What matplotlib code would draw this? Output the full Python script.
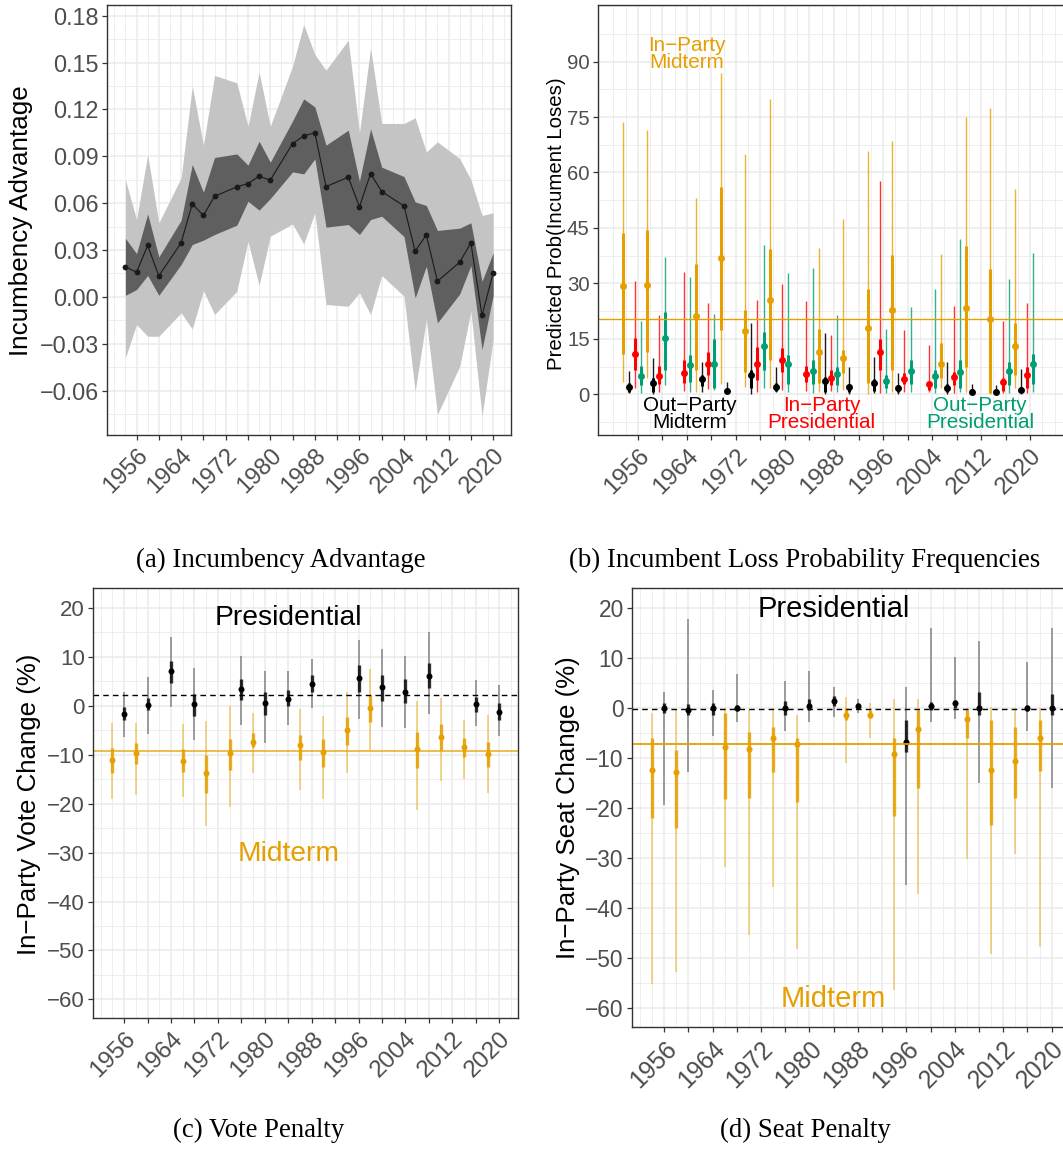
import numpy as np
import matplotlib.pyplot as plt
from matplotlib.ticker import MultipleLocator, FixedLocator

plt.rcParams['font.family'] = ['Liberation Sans', 'DejaVu Sans']

# ---------------- (a) incumbency advantage ----------------
years_a = [1954, 1956, 1958, 1960, 1964, 1966, 1968, 1970, 1974, 1976, 1978, 1980, 1984, 1986,
           1988, 1990, 1994, 1996, 1998, 2000, 2004, 2006, 2008, 2010, 2014, 2016, 2018, 2020]
adv = [0.0192, 0.0158, 0.0329, 0.0134, 0.0346, 0.0595, 0.0521, 0.0644, 0.0704, 0.0725, 0.0772, 0.0747,
       0.0981, 0.1030, 0.1050, 0.0706, 0.0766, 0.0576, 0.0789, 0.0674, 0.0582, 0.0292, 0.0397, 0.0100,
       0.0222, 0.0346, -0.0119, 0.0154]
adv_in_lo = [0.001, 0.0047, 0.0137, 0.001, 0.0207, 0.0335, 0.0363, 0.0399, 0.0459, 0.0612, 0.0555, 0.0629,
             0.080, 0.0787, 0.0883, 0.0446, 0.0463, 0.0399, 0.0495, 0.0516, 0.0386, -0.0006, 0.0196, -0.0166,
             0.0019, 0.020, -0.0337, 0.001]
adv_in_hi = [0.0375, 0.0277, 0.0531, 0.0256, 0.049, 0.0847, 0.067, 0.0892, 0.0915, 0.0843, 0.0996, 0.0862,
             0.1126, 0.1267, 0.1216, 0.0971, 0.1067, 0.074, 0.1075, 0.083, 0.077, 0.0608, 0.0585, 0.0425,
             0.044, 0.0474, 0.010, 0.0282]
adv_out_lo = [-0.039, -0.0177, -0.0252, -0.0252, -0.0102, -0.0205, 0.004, -0.0113, 0.0036, 0.0356, 0.0073,
              0.0388, 0.0467, 0.0339, 0.0538, -0.0049, -0.006, 0.0026, -0.0113, 0.0137, 0.0004, -0.0604,
              -0.0145, -0.0753, -0.0444, -0.0092, -0.0764, -0.0273]
adv_out_hi = [0.0751, 0.0495, 0.0911, 0.0474, 0.0762, 0.1348, 0.0971, 0.1417, 0.137, 0.1092, 0.1438, 0.1092,
              0.1476, 0.1743, 0.1551, 0.1451, 0.1643, 0.105, 0.1594, 0.111, 0.111, 0.1146, 0.0928, 0.0992,
              0.0885, 0.0751, 0.0521, 0.0538]

# ---------------- years used in (b), (c), (d) ----------------
mid_years = [1954, 1958, 1966, 1970, 1974, 1978, 1986, 1990, 1994, 1998, 2006, 2010, 2014, 2018]
pres_years = [1956, 1960, 1964, 1968, 1976, 1980, 1984, 1988, 1996, 2000, 2004, 2008, 2016, 2020]

# ---------------- (b) loss probabilities ----------------
# in-party midterm
inmid_pt = [29.2, 29.5, 21.3, 37.0, 17.1, 25.5, 11.5, 9.7, 17.9, 22.8, 8.3, 23.4, 20.4, 13.1]
inmid_lo50 = [10.8, 11.4, 6.6, 17.4, 6.1, 9.3, 3.0, 5.7, 3.0, 6.6, 4.3, 7.5, 0.3, 5.2]
inmid_hi50 = [43.6, 44.5, 35.2, 56.0, 22.8, 39.3, 17.8, 12.0, 28.5, 37.7, 13.8, 40.2, 33.8, 19.2]
inmid_lo95 = [3.3, 4.3, 0.7, 2.8, 1.9, 1.6, 0.7, 1.2, 0.0, 0.5, 1.6, 0.5, 0.0, 1.6]
inmid_hi95 = [73.7, 71.5, 53.1, 87.0, 64.9, 80.0, 39.6, 47.4, 65.8, 68.5, 37.9, 75.1, 77.5, 55.6]
# out-party midterm
outmid_pt = [2.0, 3.1, 4.1, 1.0, 5.2, 2.1, 3.7, 1.9, 3.1, 1.8, 1.8, 0.7, 0.6, 1.1]
outmid_lo50 = [0.7, 0.7, 2.3, 0.5, 1.6, 0.9, 0.7, 0.5, 1.0, 0.5, 0.5, 0.3, 0.3, 0.5]
outmid_hi50 = [3.0, 4.3, 5.2, 1.6, 6.6, 3.0, 4.8, 2.8, 4.1, 2.5, 2.8, 1.4, 1.2, 2.1]
outmid_lo95 = [0.3, 0.1, 0.7, 0.3, 0.1, 0.5, 0.1, 0.1, 0.3, 0.1, 0.1, 0.1, 0.1, 0.1]
outmid_hi95 = [6.3, 9.9, 8.7, 3.3, 19.2, 7.5, 16.5, 7.5, 10.2, 5.7, 8.8, 2.8, 2.5, 6.9]
# in-party presidential
inpres_pt = [10.9, 5.0, 5.9, 8.1, 8.1, 9.3, 5.5, 4.3, 11.4, 4.2, 2.8, 4.8, 3.2, 5.1]
inpres_lo50 = [6.6, 2.8, 3.0, 5.2, 3.9, 6.1, 3.2, 2.5, 6.6, 2.8, 1.2, 2.5, 1.0, 1.6]
inpres_hi50 = [15.1, 7.7, 9.3, 11.5, 12.9, 12.4, 7.7, 6.6, 15.0, 5.7, 3.4, 6.1, 4.3, 7.5]
inpres_lo95 = [1.6, 0.5, 1.0, 1.4, 0.5, 1.2, 1.0, 1.0, 0.3, 0.7, 0.5, 0.3, 0.3, 0.3]
inpres_hi95 = [30.7, 21.4, 33.2, 24.6, 25.5, 29.8, 25.3, 16.0, 57.8, 17.4, 13.3, 24.0, 19.8, 24.8]
# out-party presidential
outpres_pt = [5.0, 15.3, 7.8, 8.3, 13.1, 8.1, 6.3, 5.4, 3.6, 6.4, 5.0, 6.0, 6.4, 8.1]
outpres_lo50 = [2.5, 6.6, 3.4, 1.6, 6.6, 2.8, 2.8, 2.5, 1.6, 2.8, 1.6, 1.6, 2.5, 2.8]
outpres_hi50 = [7.7, 22.3, 10.6, 15.0, 16.8, 10.6, 9.3, 7.5, 5.2, 9.3, 6.6, 9.3, 8.8, 10.8]
outpres_lo95 = [0.3, 2.5, 0.7, 1.2, 1.6, 0.7, 0.3, 0.7, 0.3, 0.5, 0.3, 0.7, 0.3, 0.7]
outpres_hi95 = [19.8, 37.1, 31.6, 21.7, 40.5, 32.7, 34.1, 21.4, 17.8, 23.7, 28.4, 42.1, 31.2, 38.2]
loss_ref = 20.4

# ---------------- (c) vote penalty ----------------
vote_mid = [-11.0, -9.7, -11.2, -13.7, -9.6, -7.4, -8.0, -9.5, -5.0, -0.4, -8.9, -6.3, -8.4, -9.9]
vote_mid_lo50 = [-13.8, -11.8, -13.5, -17.9, -13.2, -8.4, -11.1, -12.5, -8.0, -3.3, -12.8, -9.1, -10.4, -12.6]
vote_mid_hi50 = [-8.7, -7.7, -8.9, -10.1, -6.7, -5.5, -6.0, -6.7, -2.2, 2.2, -5.3, -3.7, -6.5, -7.4]
vote_mid_lo95 = [-19.0, -18.2, -18.6, -24.6, -20.6, -13.8, -17.2, -19.1, -13.8, -9.1, -21.3, -15.3, -15.0, -17.9]
vote_mid_hi95 = [-3.6, -3.6, -3.7, -3.1, -0.1, -1.4, -0.7, -2.1, 2.9, 7.6, 1.0, 1.5, -2.9, -1.9]
vote_pres = [-1.6, 0.1, 7.0, 0.3, 3.4, 0.6, 1.4, 4.4, 5.6, 3.8, 2.8, 6.0, 0.4, -1.2]
vote_pres_lo50 = [-2.9, -0.9, 4.6, -2.1, 1.2, -1.8, -0.1, 2.9, 2.9, 1.0, 0.6, 3.7, -1.2, -2.9]
vote_pres_hi50 = [-0.2, 1.5, 9.1, 2.5, 5.5, 2.9, 3.2, 6.3, 8.3, 6.3, 5.4, 8.7, 1.7, 0.6]
vote_pres_lo95 = [-6.3, -5.7, -0.2, -7.0, -4.0, -7.6, -3.9, -0.5, -2.8, -4.3, -4.6, -1.6, -4.2, -6.2]
vote_pres_hi95 = [2.9, 5.9, 14.1, 7.8, 10.2, 7.1, 7.0, 9.5, 13.4, 11.5, 10.2, 15.0, 5.2, 4.2]
vote_ref_mid, vote_ref_pres = -9.2, 2.1

# ---------------- (d) seat penalty ----------------
seat_mid = [-12.4, -12.8, -7.7, -8.1, -5.9, -7.2, -1.3, -1.3, -9.1, -4.1, -2.2, -12.4, -10.5, -5.9]
seat_mid_lo50 = [-22.0, -23.9, -18.2, -17.9, -12.8, -18.7, -2.3, -2.0, -21.5, -16.0, -5.9, -23.4, -17.9, -12.5]
seat_mid_hi50 = [-6.0, -8.3, -1.0, -4.7, -3.7, -6.0, 0.0, -0.3, -6.0, -0.3, -0.3, -2.3, -3.7, -2.3]
seat_mid_lo95 = [-55.1, -52.8, -31.7, -45.4, -35.7, -48.1, -11.0, -5.9, -56.4, -37.2, -30.2, -49.1, -29.2, -47.7]
seat_mid_hi95 = [-1.0, -0.3, 0.0, -0.3, 0.0, -1.3, 2.3, 1.0, 1.9, 1.9, 0.0, 0.3, 0.0, 0.0]
seat_pres = [0.0, -0.4, 0.0, 0.0, 0.0, 0.5, 1.5, 0.5, -6.8, 0.5, 1.0, 0.1, 0.1, 0.1]
seat_pres_lo50 = [-1.0, -1.3, -1.3, -0.5, -1.3, -0.3, 0.5, 0.0, -8.7, -0.3, 0.0, -1.3, -0.5, -1.3]
seat_pres_hi50 = [1.0, 0.9, 1.0, 0.7, 1.5, 1.8, 2.5, 1.0, -2.3, 1.3, 1.7, 3.2, 0.7, 2.8]
seat_pres_lo95 = [-19.4, -12.8, -5.5, -2.7, -4.5, -2.7, -1.8, -0.9, -35.4, -2.7, -2.2, -15.0, -4.5, -16.0]
seat_pres_hi95 = [3.2, 17.9, 3.7, 6.9, 5.5, 7.5, 4.2, 1.9, 4.2, 16.0, 10.2, 13.4, 9.2, 16.0]
seat_ref_mid, seat_ref_pres = -7.2, -0.2

ORANGE = '#E69F00'
GREEN = '#009E73'
RED = '#FF0000'

W, H = 1063, 1160
fig = plt.figure(figsize=(W / 100, H / 100), dpi=100)


def add_ax(left, top, right, bottom):
    # axes placed in pixel units of the figure
    return fig.add_axes([left / W, 1 - bottom / H, (right - left) / W, (bottom - top) / H])


def style(ax, yfs, xfs, yticks, ystep, ylim, xlim, yfmt=None):
    ax.set_xlim(*xlim)
    ax.set_ylim(*ylim)
    ticks = list(range(1956, 2021, 4))
    ax.xaxis.set_major_locator(FixedLocator(ticks))
    ax.set_xticklabels([str(t) if (t - 1956) % 8 == 0 else '' for t in ticks])
    ax.xaxis.set_minor_locator(FixedLocator(list(range(1952, 2025, 2))))
    ax.yaxis.set_major_locator(FixedLocator(yticks))
    ax.yaxis.set_minor_locator(MultipleLocator(ystep / 2))
    if yfmt:
        ax.yaxis.set_major_formatter(yfmt)
    ax.grid(which='major', color='#EBEBEB', lw=1.1)
    ax.grid(which='minor', color='#EBEBEB', lw=0.6)
    ax.set_axisbelow(True)
    for s in ax.spines.values():
        s.set_color('#333333')
        s.set_linewidth(1.0)
    ax.tick_params(which='major', length=3.5, width=0.9, color='#333333',
                   labelcolor='#4D4D4D', pad=2.5)
    ax.tick_params(axis='y', labelsize=yfs)
    ax.tick_params(axis='x', labelsize=xfs, pad=3.5)
    ax.tick_params(which='minor', length=0)
    for lab in ax.get_xticklabels():
        lab.set_rotation(45)
        lab.set_ha('right')
        lab.set_va('top')
        lab.set_rotation_mode('anchor')


def bars(ax, x, pt, lo50, hi50, lo95, hi95, color, ms, lw_thin, lw_thick, a_thin, a_thick):
    ax.vlines(x, lo95, hi95, color=color, lw=lw_thin, alpha=a_thin)
    ax.vlines(x, lo50, hi50, color=color, lw=lw_thick, alpha=a_thick)
    ax.plot(x, pt, 'o', color=color, ms=ms, mew=0)


# ---------------- panel (a) ----------------
ax_a = add_ax(107, 5, 511, 435)
ax_a.fill_between(years_a, adv_out_lo, adv_out_hi, color='#C4C4C4', lw=0)
ax_a.fill_between(years_a, adv_in_lo, adv_in_hi, color='#5F5F5F', lw=0)
ax_a.plot(years_a, adv, color='#1A1A1A', lw=0.8, marker='o', ms=4.2, mew=0)
style(ax_a, 16.8, 17.2, np.arange(-0.06, 0.181, 0.03), 0.03, (-0.0884, 0.1868), (1950.7, 2023.2),
      yfmt=lambda v, p: f'{v:.2f}'.replace('-', '\u2212'))
fig.text(21, H - 221, 'Incumbency Advantage', transform=None, rotation=90,
         ha='center', va='center', fontsize=18.7)

# ---------------- panel (b) ----------------
ax_b = add_ax(598, 5, 1070, 435)
mid = np.array(mid_years)
pres = np.array(pres_years)
bars(ax_b, mid - 0.5, inmid_pt, inmid_lo50, inmid_hi50, inmid_lo95, inmid_hi95, ORANGE, 5, 1.0, 2.2, 0.8, 1)
bars(ax_b, mid + 0.5, outmid_pt, outmid_lo50, outmid_hi50, outmid_lo95, outmid_hi95, 'black', 5, 1.0, 2.2, 0.9, 1)
bars(ax_b, pres - 0.5, inpres_pt, inpres_lo50, inpres_hi50, inpres_lo95, inpres_hi95, RED, 5, 1.0, 2.2, 0.8, 1)
bars(ax_b, pres + 0.5, outpres_pt, outpres_lo50, outpres_hi50, outpres_lo95, outpres_hi95, GREEN, 5, 1.0, 2.2, 0.8, 1)
ax_b.axhline(loss_ref, color=ORANGE, lw=1.0)
style(ax_b, 14.7, 17.5, list(range(0, 91, 15)), 15, (-11.0, 105.3), (1949.5, 2026.5))
lab_kw = dict(ha='center', va='center', fontsize=14.9, linespacing=0.85)
ax_b.text(1964, 92, 'In\u2212Party\nMidterm', color=ORANGE, **lab_kw)
ax_b.text(1964.5, -5.3, 'Out\u2212Party\nMidterm', color='black', **lab_kw)
ax_b.text(1986, -5.3, 'In\u2212Party\nPresidential', color=RED, **lab_kw)
ax_b.text(2011.8, -5.3, 'Out\u2212Party\nPresidential', color=GREEN, **lab_kw)
fig.text(556, H - 224, 'Predicted Prob(Incument Loses)', transform=None, rotation=90,
         ha='center', va='center', fontsize=14.7)

# ---------------- panel (c) ----------------
ax_c = add_ax(93, 588, 518, 1018)
bars(ax_c, mid_years, vote_mid, vote_mid_lo50, vote_mid_hi50, vote_mid_lo95, vote_mid_hi95,
     ORANGE, 4.3, 1.1, 2.4, 0.55, 0.85)
bars(ax_c, pres_years, vote_pres, vote_pres_lo50, vote_pres_hi50, vote_pres_lo95, vote_pres_hi95,
     'black', 4.3, 1.1, 2.4, 0.45, 0.8)
ax_c.axhline(vote_ref_pres, color='black', lw=1.0, ls=(0, (4, 3)))
ax_c.axhline(vote_ref_mid, color=ORANGE, lw=1.3, alpha=0.75)
style(ax_c, 16, 17.5, list(range(-60, 21, 10)), 10, (-63.8, 24.06), (1950.7, 2023.2))
ax_c.text(1984, 17.9, 'Presidential', ha='center', va='center', fontsize=20.3, color='black')
ax_c.text(1984, -30.2, 'Midterm', ha='center', va='center', fontsize=20.3, color=ORANGE)
fig.text(29, H - 804, 'In\u2212Party Vote Change (%)', transform=None, rotation=90,
         ha='center', va='center', fontsize=18.6)

# ---------------- panel (d) ----------------
ax_d = add_ax(632, 588, 1071, 1027)
bars(ax_d, mid_years, seat_mid, seat_mid_lo50, seat_mid_hi50, seat_mid_lo95, seat_mid_hi95,
     ORANGE, 4.4, 1.1, 2.4, 0.55, 0.85)
bars(ax_d, pres_years, seat_pres, seat_pres_lo50, seat_pres_hi50, seat_pres_lo95, seat_pres_hi95,
     'black', 4.4, 1.1, 2.4, 0.45, 0.8)
ax_d.axhline(seat_ref_pres, color='black', lw=1.0, ls=(0, (4, 3)))
ax_d.axhline(seat_ref_mid, color=ORANGE, lw=1.3)
style(ax_d, 16.4, 17.8, list(range(-60, 21, 10)), 10, (-63.8, 24.04), (1950.7, 2023.2))
ax_d.text(1984, 19.8, 'Presidential', ha='center', va='center', fontsize=21, color='black')
ax_d.text(1984, -58.1, 'Midterm', ha='center', va='center', fontsize=21, color=ORANGE)
fig.text(568, H - 808, 'In\u2212Party Seat Change (%)', transform=None, rotation=90,
         ha='center', va='center', fontsize=18.6)

# ---------------- captions ----------------
cap_kw = dict(transform=None, ha='center', va='center', fontsize=19.3, family=['Liberation Serif', 'DejaVu Serif'])
fig.text(281, H - 560, '(a) Incumbency Advantage', **cap_kw)
fig.text(805, H - 560, '(b) Incumbent Loss Probability Frequencies', **cap_kw)
fig.text(259, H - 1130, '(c) Vote Penalty', **cap_kw)
fig.text(805, H - 1130, '(d) Seat Penalty', **cap_kw)

fig.savefig('out.png', dpi=100)
